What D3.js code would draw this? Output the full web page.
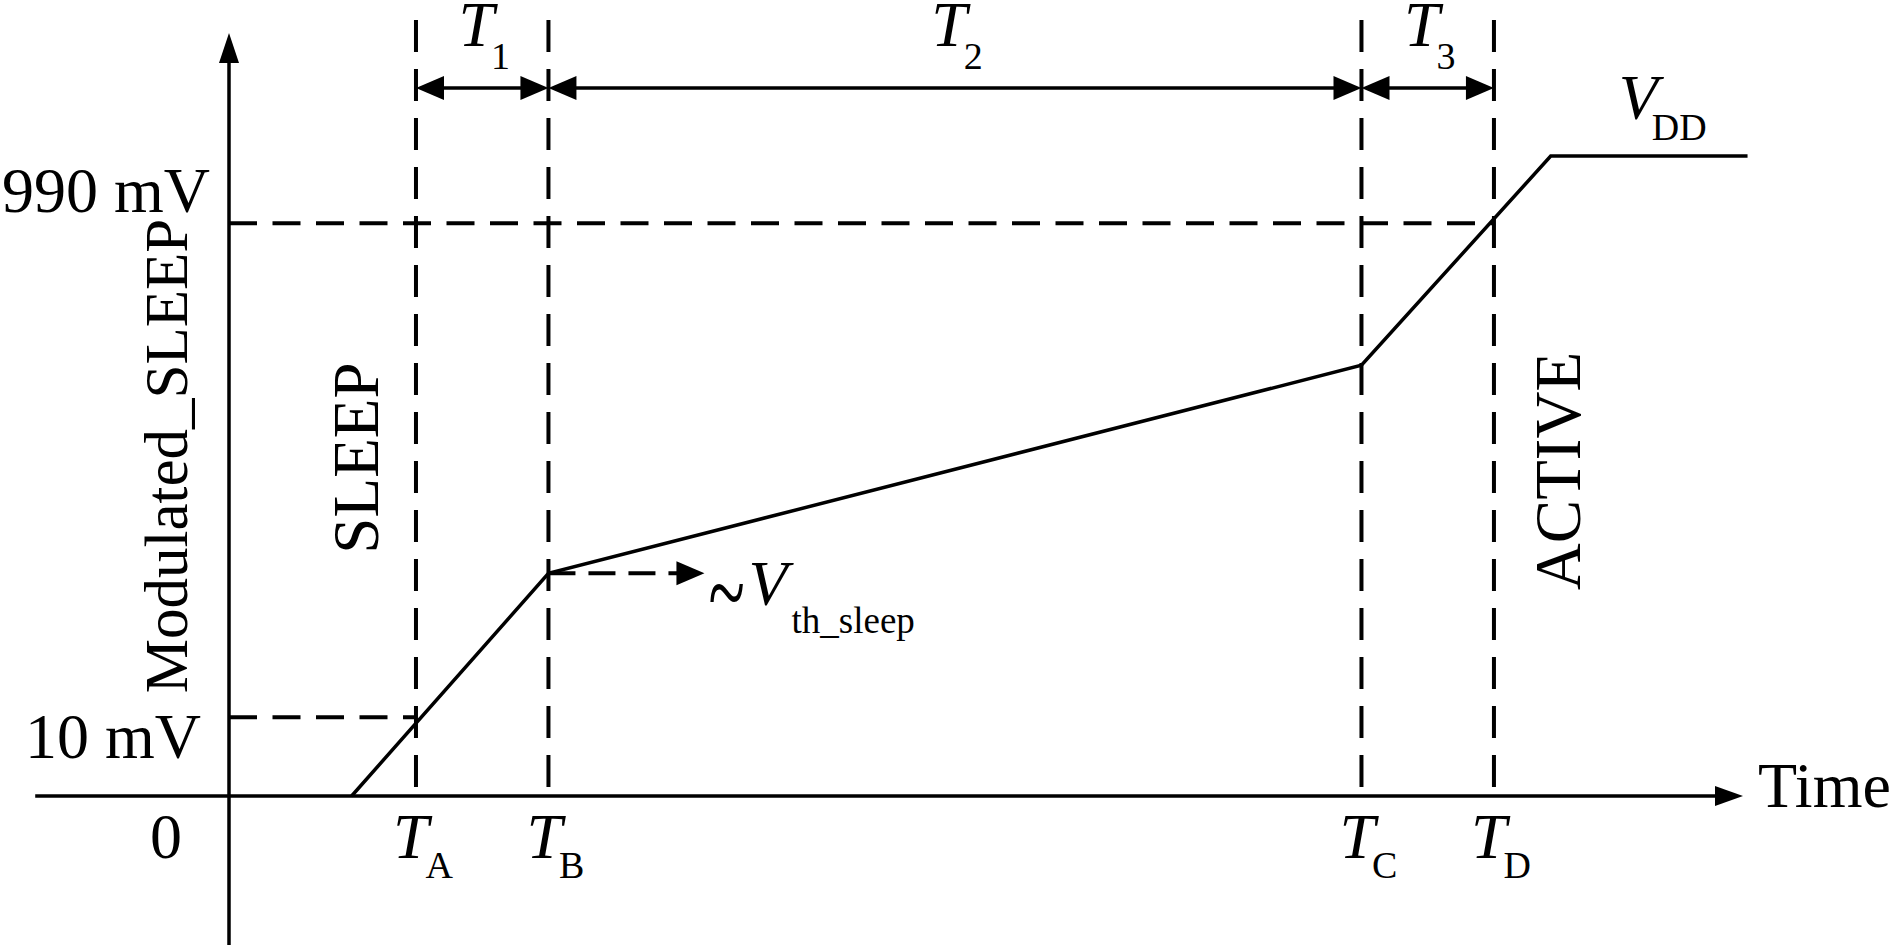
<!DOCTYPE html>
<html>
<head>
<meta charset="utf-8">
<script src="https://cdn.jsdelivr.net/npm/d3@7"></script>
<style>
    body { margin: 0; background: #fff; }
    text { font-family: "Liberation Serif", "Times New Roman", serif; fill: #000; }
</style>
</head>
<body>
<div id="viz"></div>
<script>
// time marks on the x axis (T_A .. T_D), in arbitrary time units
const timeMarks = ["A", "B", "C", "D"];
const timeMarkValues = [12.35, 21.1, 74.8, 83.55];
// interval names between consecutive marks: T1, T2, T3
const intervalNames = ["1", "2", "3"];
// Modulated_SLEEP waveform, level relative to VDD
const waveTimes = [8.1, 21.1, 74.8, 87.3, 100.3];
const waveLevels = [0, 0.348, 0.673, 1, 1];
// y tick labels and the levels they sit at
const yTickLabels = ["0", "10 mV", "990 mV"];
const yTickLevels = [0, 0.123, 0.895];
const yAxisTitle = "Modulated_SLEEP";
const xAxisTitle = "Time";
const stateLabels = ["SLEEP", "ACTIVE"];

document.addEventListener("DOMContentLoaded", () => {
    const width = 1891;
    const height = 945;

    const svg = d3.select('#viz').append('svg')
        .attr('width', width)
        .attr('height', height);

    svg.append('rect').attr('width', width).attr('height', height).attr('fill', '#fff');

    const x = d3.scaleLinear().domain([0, 100]).range([229, 1743]);
    const y = d3.scaleLinear().domain([0, 1]).range([796, 156]);

    const mainSize = 64;
    const subSize = 38;

    const arrowHead = (tipX, tipY, dir, len, half) => {
        // dir: 'left' | 'right' | 'up'
        if (dir === 'right') return `M${tipX},${tipY}L${tipX - len},${tipY - half}L${tipX - len},${tipY + half}Z`;
        if (dir === 'left') return `M${tipX},${tipY}L${tipX + len},${tipY - half}L${tipX + len},${tipY + half}Z`;
        return `M${tipX},${tipY}L${tipX - half},${tipY + len}L${tipX + half},${tipY + len}Z`;
    };

    // axes
    const x0 = x(0), y0 = y(0);
    const xTip = x(100), yTip = y(1.192);
    svg.append('line')
        .attr('x1', x(-12.8)).attr('x2', xTip - 20)
        .attr('y1', y0).attr('y2', y0)
        .attr('stroke', '#000').attr('stroke-width', 3.5);
    svg.append('path').attr('d', arrowHead(xTip, y0, 'right', 28, 10)).attr('fill', '#000');
    svg.append('line')
        .attr('x1', x0).attr('x2', x0)
        .attr('y1', height).attr('y2', yTip + 20)
        .attr('stroke', '#000').attr('stroke-width', 3.5);
    svg.append('path').attr('d', arrowHead(x0, yTip, 'up', 30, 10)).attr('fill', '#000');

    // dashed vertical markers
    svg.selectAll('.vmark')
        .data(timeMarkValues)
        .enter()
        .append('line')
        .attr('class', 'vmark')
        .attr('x1', d => x(d)).attr('x2', d => x(d))
        .attr('y1', 20).attr('y2', y0 - 9)
        .attr('stroke', '#000').attr('stroke-width', 4)
        .attr('stroke-dasharray', '32,17');

    // dashed horizontal guides: 10 mV -> T_A, 990 mV -> T_D
    const guides = [
        { level: yTickLevels[1], to: timeMarkValues[0] },
        { level: yTickLevels[2], to: timeMarkValues[3] }
    ];
    svg.selectAll('.hguide')
        .data(guides)
        .enter()
        .append('line')
        .attr('class', 'hguide')
        .attr('x1', x0).attr('x2', d => x(d.to))
        .attr('y1', d => y(d.level)).attr('y2', d => y(d.level))
        .attr('stroke', '#000').attr('stroke-width', 4)
        .attr('stroke-dasharray', '28,15.5');

    // dimension arrows T1..T3
    const dimY = 88;
    intervalNames.forEach((name, i) => {
        const a = x(timeMarkValues[i]);
        const b = x(timeMarkValues[i + 1]);
        svg.append('line')
            .attr('x1', a + 10).attr('x2', b - 10)
            .attr('y1', dimY).attr('y2', dimY)
            .attr('stroke', '#000').attr('stroke-width', 3.5);
        svg.append('path').attr('d', arrowHead(a, dimY, 'left', 28, 12)).attr('fill', '#000');
        svg.append('path').attr('d', arrowHead(b, dimY, 'right', 28, 12)).attr('fill', '#000');

        const t = svg.append('text')
            .attr('x', (a + b) / 2 + 2)
            .attr('y', 46)
            .attr('text-anchor', 'middle');
        t.append('tspan').attr('font-size', mainSize).attr('font-style', 'italic').text('T');
        t.append('tspan').attr('font-size', subSize).attr('dx', -3).attr('dy', 23).text(name);
    });

    // waveform
    const line = d3.line()
        .x((d, i) => x(waveTimes[i]))
        .y(d => y(d));
    svg.append('path')
        .datum(waveLevels)
        .attr('d', line)
        .attr('fill', 'none')
        .attr('stroke', '#000')
        .attr('stroke-width', 3.5)
        .attr('stroke-linejoin', 'miter');

    // ~V_th_sleep dashed arrow from T_B
    const thX = x(timeMarkValues[1]);
    const thY = y(waveLevels[1]);
    const thTip = thX + 156;
    svg.append('line')
        .attr('x1', thX).attr('x2', thTip - 24)
        .attr('y1', thY).attr('y2', thY)
        .attr('stroke', '#000').attr('stroke-width', 4)
        .attr('stroke-dasharray', '27,13');
    svg.append('path').attr('d', arrowHead(thTip, thY, 'right', 28, 12)).attr('fill', '#000');
    svg.append('text')
        .attr('transform', `translate(${thTip + 4},${thY + 56}) scale(1.05,1.7)`)
        .attr('font-size', mainSize)
        .text('~');
    const vth = svg.append('text').attr('x', thTip + 44).attr('y', thY + 32);
    vth.append('tspan').attr('font-size', mainSize).attr('font-style', 'italic').text('V');
    vth.append('tspan').attr('font-size', 37).attr('dx', 4).attr('dy', 28).text('th_sleep');

    // V_DD label
    const vdd = svg.append('text').attr('x', x(waveTimes[3]) + 68).attr('y', y(1) - 37);
    vdd.append('tspan').attr('font-size', mainSize).attr('font-style', 'italic').text('V');
    vdd.append('tspan').attr('font-size', subSize).attr('dx', -6).attr('dy', 21).text('DD');

    // time mark labels T_A..T_D
    timeMarks.forEach((m, i) => {
        const t = svg.append('text')
            .attr('x', x(timeMarkValues[i]) + 7)
            .attr('y', y0 + 62)
            .attr('text-anchor', 'middle');
        t.append('tspan').attr('font-size', mainSize).attr('font-style', 'italic').text('T');
        t.append('tspan').attr('font-size', subSize).attr('dx', -3).attr('dy', 20).text(m);
    });

    // y tick labels
    const tickPlace = [
        { dx: -47, dy: 62 },
        { dx: -28, dy: 41 },
        { dx: -19, dy: -11 }
    ];
    svg.selectAll('.ytick')
        .data(yTickLabels)
        .enter()
        .append('text')
        .attr('class', 'ytick')
        .attr('x', (d, i) => x0 + tickPlace[i].dx)
        .attr('y', (d, i) => y(yTickLevels[i]) + tickPlace[i].dy)
        .attr('text-anchor', 'end')
        .attr('font-size', mainSize)
        .text(d => d);

    // axis titles
    svg.append('text')
        .attr('x', xTip + 15)
        .attr('y', y0 + 11)
        .attr('font-size', mainSize)
        .text(xAxisTitle);
    svg.append('text')
        .attr('transform', `translate(${x0 - 42},456) rotate(-90)`)
        .attr('text-anchor', 'middle')
        .attr('font-size', 61)
        .text(yAxisTitle);

    // state labels
    svg.append('text')
        .attr('transform', `translate(${x(timeMarkValues[0]) - 38},458) rotate(-90)`)
        .attr('text-anchor', 'middle')
        .attr('font-size', 65)
        .text(stateLabels[0]);
    svg.append('text')
        .attr('transform', `translate(${x(timeMarkValues[3]) + 86},471) rotate(-90)`)
        .attr('text-anchor', 'middle')
        .attr('font-size', 65)
        .text(stateLabels[1]);
});
</script>
</body>
</html>
